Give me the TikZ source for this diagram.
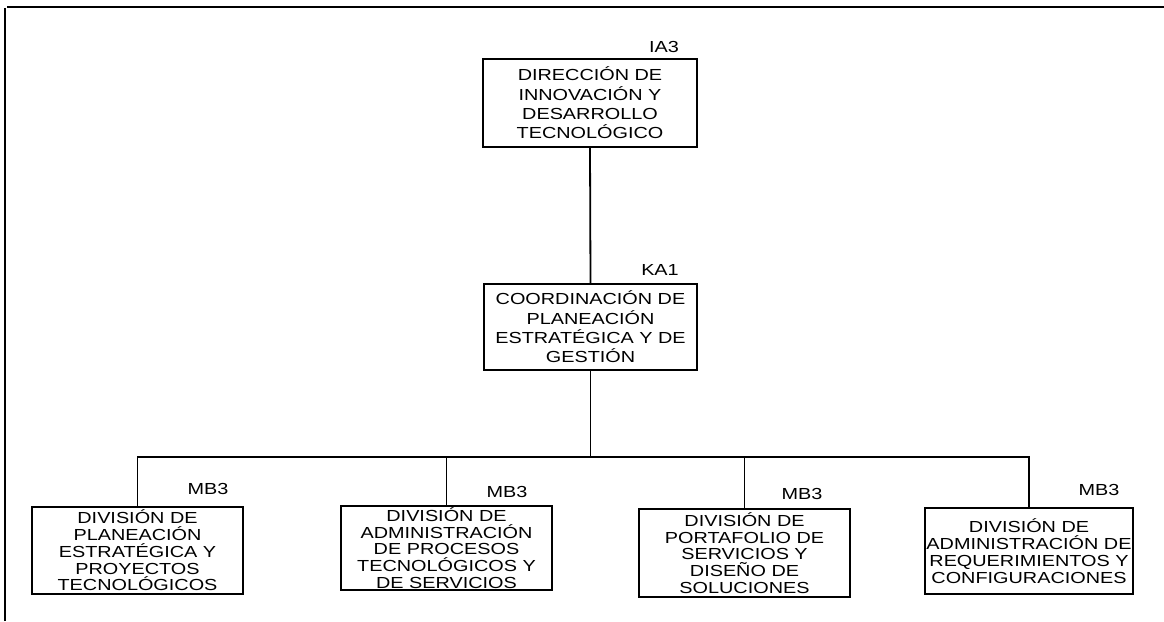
\documentclass[tikz,border=0pt]{standalone}
\usepackage{fontspec}
\setmainfont{Liberation Sans}
\newfontfamily\widesans[FakeStretch=1.24]{Liberation Sans}
\begin{document}
\begin{tikzpicture}[x=1pt,y=-1pt,
  unit/.style={draw, line width=2pt, inner sep=0pt, align=center, fill=white},
  topfont/.style={font=\widesans\fontsize{16}{19.4}\selectfont},
  lowfont/.style={font=\widesans\fontsize{16}{16.8}\selectfont},
  code/.style={font=\widesans\fontsize{16}{16}\selectfont, inner sep=0pt},
  link/.style={line width=1.8pt}]
\useasboundingbox (0,0) rectangle (1164,621);
\draw[line width=2pt] (5,621) -- (5,8);
\draw[line width=2pt] (7,7) -- (1164,7);

\node[unit, topfont, minimum width=214pt, minimum height=88pt] (top) at (590,103)
  {DIRECCIÓN DE\\INNOVACIÓN Y\\DESARROLLO\\TECNOLÓGICO};
\node[code] (ltop) at (664,47) {IA3};

\node[unit, topfont, minimum width=213pt, minimum height=86pt] (mid) at (590.5,327)
  {COORDINACIÓN DE\\PLANEACIÓN\\ESTRATÉGICA Y DE\\GESTIÓN};
\node[code] (lmid) at (660,270) {KA1};

\node[unit, lowfont, minimum width=211pt, minimum height=87pt] (b1) at (137.5,550.5)
  {DIVISIÓN DE\\PLANEACIÓN\\ESTRATÉGICA Y\\PROYECTOS\\TECNOLÓGICOS};
\node[code] (l1) at (208,489) {MB3};

\node[unit, lowfont, minimum width=211pt, minimum height=84pt] (b2) at (446.5,548)
  {DIVISIÓN DE\\ADMINISTRACIÓN\\DE PROCESOS\\TECNOLÓGICOS Y\\DE SERVICIOS};
\node[code] (l2) at (507,492) {MB3};

\node[unit, lowfont, minimum width=211pt, minimum height=88pt] (b3) at (744.5,553)
  {DIVISIÓN DE\\PORTAFOLIO DE\\SERVICIOS Y\\DISEÑO DE\\SOLUCIONES};
\node[code] (l3) at (802,494) {MB3};

\node[unit, lowfont, minimum width=208pt, minimum height=86pt] (b4) at (1029,551)
  {DIVISIÓN DE\\ADMINISTRACIÓN DE\\REQUERIMIENTOS Y\\CONFIGURACIONES};
\node[code] (l4) at (1099,490) {MB3};

\coordinate (bus) at (590.5,457);
\draw[link] (top.south) -- (mid.north);
\draw[link] (mid.south) -- (bus);
\draw[link] (b1.north) -- (b1.north |- bus) -- (b4.north |- bus) -- (b4.north);
\draw[link] (b2.north) -- (b2.north |- bus);
\draw[link] (b3.north) -- (b3.north |- bus);
\end{tikzpicture}
\end{document}
